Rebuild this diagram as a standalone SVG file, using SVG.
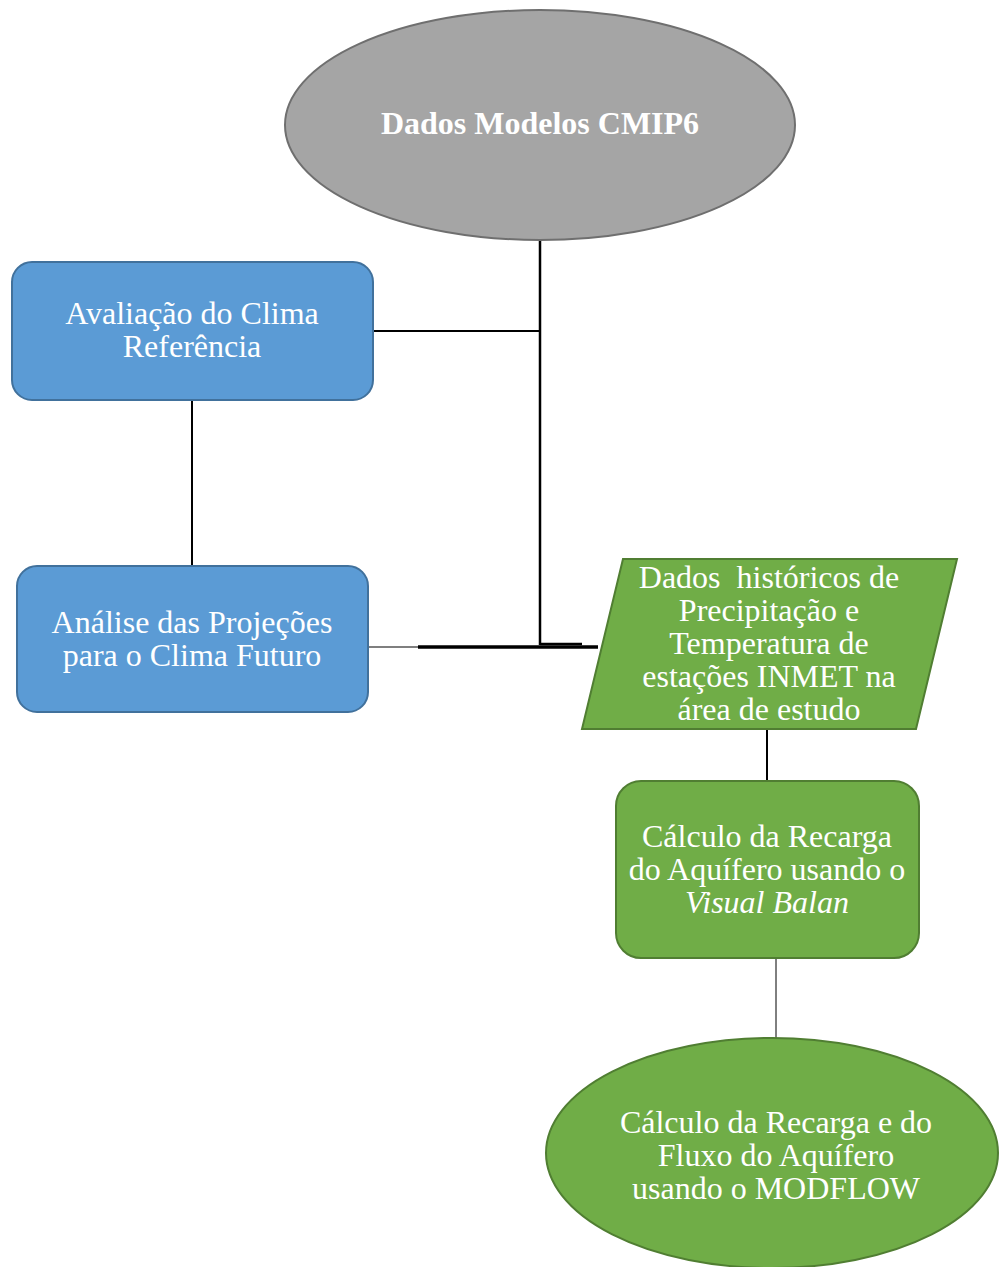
<svg xmlns="http://www.w3.org/2000/svg" width="999" height="1267" viewBox="0 0 999 1267">
<style>
text{font-family:'Liberation Serif','Times New Roman',Times,serif;font-size:32px;fill:#fff;text-anchor:middle}
.b{font-weight:bold}
.blue{fill:#5b9bd5;stroke:#41719c;stroke-width:2}
.green{fill:#70ad47;stroke:#507e32;stroke-width:2}
.ln{stroke:#000;fill:none}
</style>
<rect width="999" height="1267" fill="#fff"/>
<g id="connectors">
<line class="ln" x1="540" y1="240" x2="540" y2="645" stroke-width="2.5"/>
<line class="ln" x1="373" y1="331" x2="540" y2="331" stroke-width="2"/>
<line class="ln" x1="192" y1="400" x2="192" y2="566" stroke-width="2"/>
<line class="ln" x1="368" y1="647" x2="420" y2="647" stroke-width="1.2"/>
<line class="ln" x1="418" y1="647" x2="598" y2="647" stroke-width="3.5"/>
<line class="ln" x1="540" y1="644" x2="582" y2="644" stroke-width="2.5"/>
<line class="ln" x1="767" y1="729" x2="767" y2="781" stroke-width="2"/>
<line class="ln" x1="776" y1="958" x2="776" y2="1038" stroke-width="1"/>
</g>
<g id="cmip6">
<ellipse cx="540" cy="125" rx="255" ry="115" fill="#a5a5a5" stroke="#6f6f6f" stroke-width="2"/>
<text class="b" x="540" y="134">Dados Modelos CMIP6</text>
</g>
<g id="avaliacao">
<rect class="blue" x="12" y="262" width="361" height="138" rx="20"/>
<text x="192" y="324">Avaliação do Clima</text>
<text x="192" y="357">Referência</text>
</g>
<g id="analise">
<rect class="blue" x="17" y="566" width="351" height="146" rx="20"/>
<text x="192" y="633">Análise das Projeções</text>
<text x="192" y="666">para o Clima Futuro</text>
</g>
<g id="inmet">
<polygon class="green" points="623,559 957,559 916,729 582,729"/>
<text x="769" y="588" xml:space="preserve">Dados  históricos de</text>
<text x="769" y="621">Precipitação e</text>
<text x="769" y="654">Temperatura de</text>
<text x="769" y="687">estações INMET na</text>
<text x="769" y="720">área de estudo</text>
</g>
<g id="visualbalan">
<rect class="green" x="616" y="781" width="303" height="177" rx="25"/>
<text x="767" y="847">Cálculo da Recarga</text>
<text x="767" y="880">do Aquífero usando o</text>
<text x="767" y="913" font-style="italic">Visual Balan</text>
</g>
<g id="modflow">
<ellipse class="green" cx="772" cy="1153" rx="226" ry="115"/>
<text x="776" y="1133">Cálculo da Recarga e do</text>
<text x="776" y="1166">Fluxo do Aquífero</text>
<text x="776" y="1199">usando o MODFLOW</text>
</g>
</svg>
